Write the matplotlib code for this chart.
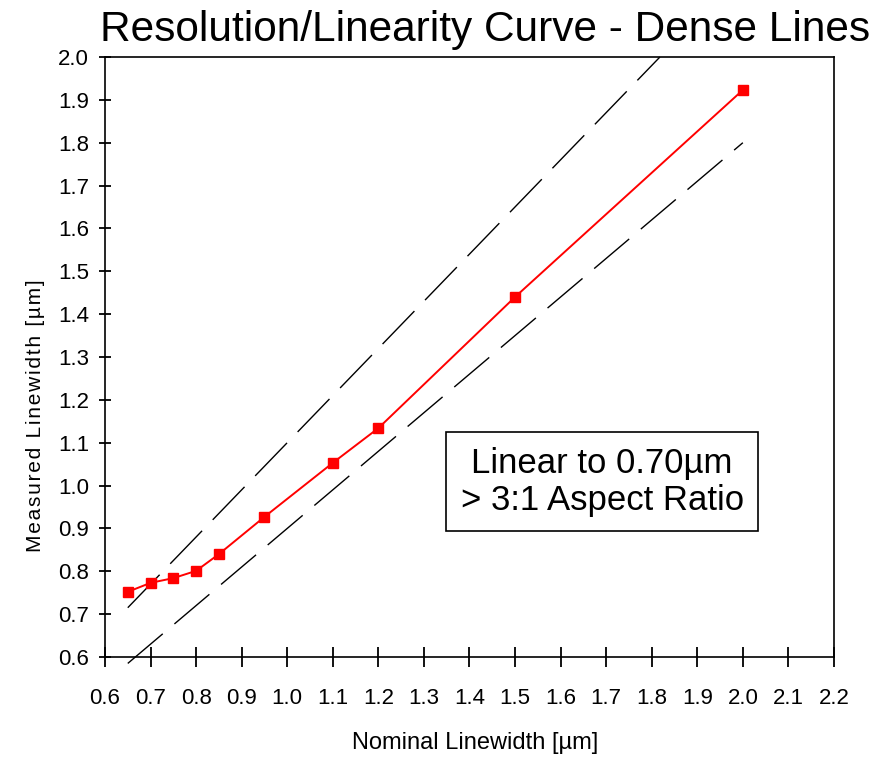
import matplotlib
matplotlib.use("Agg")
import matplotlib.pyplot as plt

plt.rcParams['font.family'] = ['Liberation Sans', 'DejaVu Sans']

nominal = [0.65, 0.70, 0.75, 0.80, 0.85, 0.95, 1.10, 1.20, 1.50, 2.00]
measured = [0.752, 0.773, 0.784, 0.801, 0.840, 0.927, 1.053, 1.134, 1.440, 1.923]

# +/-10% limit lines
upper_x = [0.65, 1.818]
upper_y = [0.715, 2.0]
lower_x = [0.65, 2.0]
lower_y = [0.585, 1.8]

xticks = [0.6, 0.7, 0.8, 0.9, 1.0, 1.1, 1.2, 1.3, 1.4, 1.5, 1.6, 1.7, 1.8, 1.9, 2.0, 2.1, 2.2]
yticks = [0.6, 0.7, 0.8, 0.9, 1.0, 1.1, 1.2, 1.3, 1.4, 1.5, 1.6, 1.7, 1.8, 1.9, 2.0]

fig = plt.figure(figsize=(8.72, 7.62), dpi=100)
ax = fig.add_axes([0.1204, 0.1378, 0.836, 0.7874])

ax.plot(upper_x, upper_y, color='black', lw=1.0, dashes=(33, 11), clip_on=False)
ax.plot(lower_x, lower_y, color='black', lw=1.0, dashes=(33, 11), clip_on=False)
ax.plot(nominal, measured, color='red', lw=1.4, marker='s', ms=7, mec='red', mfc='red')

ax.set_xlim(0.6, 2.2)
ax.set_ylim(0.6, 2.0)
ax.set_xticks(xticks)
ax.set_yticks(yticks)
ax.set_xticklabels([f'{v:.1f}' for v in xticks], fontsize=16)
ax.set_yticklabels([f'{v:.1f}' for v in yticks], fontsize=16)
ax.tick_params(axis='x', direction='inout', length=14, width=1.3, pad=15)
ax.tick_params(axis='y', direction='inout', length=9, width=1.3, pad=7)
for s in ax.spines.values():
    s.set_linewidth(1.2)

ax.set_xlabel('Nominal Linewidth [µm]', fontsize=17, va='top')
ax.xaxis.set_label_coords(0.5075, -0.125)
ylab = '\u200a'.join('Measured Linewidth [µm]')
ax.set_ylabel(ylab, fontsize=15)
ax.yaxis.set_label_coords(-0.082, 0.403)

fig.text(0.556, 0.96, 'Resolution/Linearity Curve - Dense Lines',
         fontsize=30.5, ha='center', va='center')

ax.text(0.682, 0.292, 'Linear to 0.70µm\n> 3:1 Aspect Ratio', transform=ax.transAxes,
        fontsize=25, ha='center', va='center', linespacing=1.15,
        bbox=dict(boxstyle='square,pad=0.42', fc='white', ec='black', lw=1.2))

fig.savefig('out.png', dpi=100)
